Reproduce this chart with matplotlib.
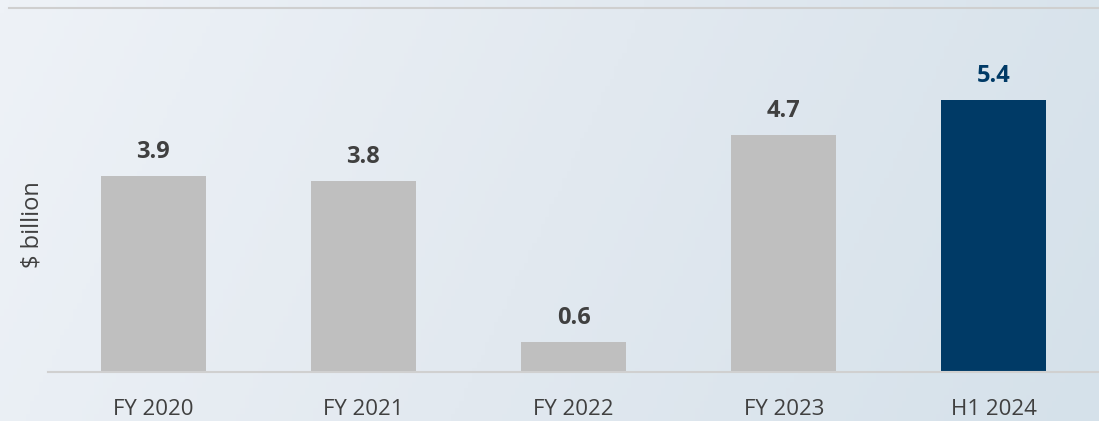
import numpy as np
import matplotlib.pyplot as plt
from matplotlib.colors import LinearSegmentedColormap
from matplotlib.lines import Line2D

categories = ['FY 2020', 'FY 2021', 'FY 2022', 'FY 2023', 'H1 2024']
values = [3.9, 3.8, 0.6, 4.7, 5.4]
bar_colors = ['#BFBFBF', '#BFBFBF', '#BFBFBF', '#BFBFBF', '#003A66']
label_colors = ['#404040', '#404040', '#404040', '#404040', '#003A66']
y_label = '$ billion'

plt.rcParams['font.family'] = ['Open Sans', 'DejaVu Sans']

W, H = 1099, 421
fig = plt.figure(figsize=(W / 100, H / 100), dpi=100)

# background gradient
bg = fig.add_axes([0, 0, 1, 1], zorder=0)
cmap = LinearSegmentedColormap.from_list('bg', ['#EEF2F7', '#E2E9F0', '#D5E1EA'])
gx = np.linspace(0, 1, 256)
gy = np.linspace(0, 1, 64)
grad = 0.85 * gx[None, :] + 0.15 * (1 - gy[:, None])
bg.imshow(grad, cmap=cmap, aspect='auto', extent=[0, 1, 0, 1], origin='lower')
bg.axis('off')

ax = fig.add_axes([48 / W, (H - 372) / H, (W - 48) / W, (372 - 8) / H], zorder=1)
ax.patch.set_alpha(0)
x = np.arange(len(categories))
ax.bar(x, values, width=0.5, color=bar_colors)
for xi, v, c in zip(x, values, label_colors):
    ax.annotate(f'{v:.1f}', (xi, v), xytext=(0, 12), textcoords='offset pixels',
                ha='center', va='bottom', fontsize=17, fontweight='bold', color=c)

ax.set_xlim(-0.5, len(categories) - 0.5)
ax.set_ylim(0, 364 / 50.37)
ax.set_xticks(x)
ax.set_xticklabels(categories, fontsize=16, color='#404040')
ax.tick_params(axis='x', length=0, pad=19.5)
ax.set_yticks([])
for s in ['top', 'left', 'right']:
    ax.spines[s].set_visible(False)
ax.spines['bottom'].set_color('#D0D0D0')
ax.spines['bottom'].set_linewidth(1.5)

fig.add_artist(Line2D([9 / W, 1], [(H - 8) / H] * 2, color='#CFCFCF', lw=1.5,
                      transform=fig.transFigure, zorder=2))
fig.text(32 / W, (H - 225) / H, y_label, rotation=90, ha='center', va='center',
         fontsize=17, color='#404040')

fig.savefig('out.png', dpi=100)
